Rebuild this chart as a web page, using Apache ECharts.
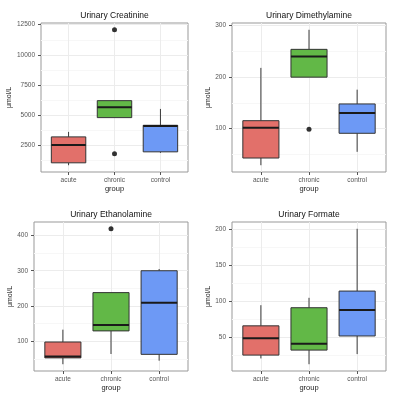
<!DOCTYPE html>
<html>
<head>
<meta charset="utf-8">
<script src="https://cdn.jsdelivr.net/npm/echarts@6/dist/echarts.min.js"></script>
<style>
  html, body { margin: 0; padding: 0; background: #fff; }
  #chart { width: 398px; height: 398px; }
</style>
</head>
<body>
<div id="chart"></div>
<script>
// groups on the x axis
const categories = ['acute', 'chronic', 'control']

// box stats per group: [min, Q1, median, Q3, max]
const creatinineBoxes = [
  [844, 1043, 2530, 3195, 3610],
  [4793, 4793, 5646, 6200, 6200],
  [1870, 1954, 4106, 4156, 5513]
]
const creatinineOutliers = [['chronic', 12078], ['chronic', 1788]]

const dimethylBoxes = [
  [29, 43, 102, 115.5, 218],
  [200, 200, 240, 254, 292],
  [55, 91, 130.5, 148, 175.7]
]
const dimethylOutliers = [['chronic', 98.7]]

const ethanolBoxes = [
  [35, 53, 57, 98, 133],
  [64, 129.5, 146, 238, 238],
  [45, 63, 209, 300, 305]
]
const ethanolOutliers = [['chronic', 419]]

const formateBoxes = [
  [21, 25.6, 49, 66, 94.5],
  [13, 32.5, 41.3, 91, 104.7],
  [27, 52, 88, 114, 200]
]
const formateOutliers = []

// tick labels (major) and minor grid positions
const creatinineTicks = [2500, 5000, 7500, 10000, 12500]
const creatinineMinor = [1250, 3750, 6250, 8750, 11250]
const dimethylTicks = [100, 200, 300]
const dimethylMinor = [50, 150, 250]
const ethanolTicks = [100, 200, 300, 400]
const ethanolMinor = [50, 150, 250, 350]
const formateTicks = [50, 100, 150, 200]
const formateMinor = [25, 75, 125, 175]

const groupColors = ['#E2706A', '#62B847', '#6D99F5']
const font = 'Liberation Sans'

const panels = [
  { title: 'Urinary Creatinine', boxes: creatinineBoxes, outliers: creatinineOutliers, ticks: creatinineTicks, minor: creatinineMinor,
    grid: { left: 41, top: 23, width: 147, height: 149 }, nameGap: 27 },
  { title: 'Urinary Dimethylamine', boxes: dimethylBoxes, outliers: dimethylOutliers, ticks: dimethylTicks, minor: dimethylMinor,
    grid: { left: 232, top: 23, width: 154, height: 149 }, nameGap: 19 },
  { title: 'Urinary Ethanolamine', boxes: ethanolBoxes, outliers: ethanolOutliers, ticks: ethanolTicks, minor: ethanolMinor,
    grid: { left: 34, top: 222, width: 154, height: 149 }, nameGap: 18 },
  { title: 'Urinary Formate', boxes: formateBoxes, outliers: formateOutliers, ticks: formateTicks, minor: formateMinor,
    grid: { left: 232, top: 222, width: 154, height: 149 }, nameGap: 19 }
]

// ggplot style box: whiskers without caps, thick median
function renderBox(params, api) {
  const x = api.value(0)
  const lo = api.coord([x, api.value(1)])
  const q1 = api.coord([x, api.value(2)])
  const md = api.coord([x, api.value(3)])
  const q3 = api.coord([x, api.value(4)])
  const hi = api.coord([x, api.value(5)])
  const half = api.size([0.75, 0])[0] / 2
  const line = { stroke: '#3a3a3a', lineWidth: 1 }
  return {
    type: 'group',
    children: [
      { type: 'line', shape: { x1: lo[0], y1: lo[1], x2: q1[0], y2: q1[1] }, style: line },
      { type: 'line', shape: { x1: q3[0], y1: q3[1], x2: hi[0], y2: hi[1] }, style: line },
      { type: 'rect', shape: { x: q3[0] - half, y: q3[1], width: half * 2, height: q1[1] - q3[1] },
        style: { fill: api.visual('color'), stroke: '#333', lineWidth: 1 } },
      { type: 'line', shape: { x1: md[0] - half, y1: md[1], x2: md[0] + half, y2: md[1] },
        style: { stroke: '#1a1a1a', lineWidth: 2 } }
    ]
  }
}

const option = {
  backgroundColor: '#fff',
  animation: false,
  title: [],
  grid: [],
  xAxis: [],
  yAxis: [],
  series: []
}

panels.forEach((p, i) => {
  // y range = data range + 5% each side
  let lo = Infinity
  let hi = -Infinity
  p.boxes.forEach(b => { lo = Math.min(lo, b[0]); hi = Math.max(hi, b[4]) })
  p.outliers.forEach(o => { lo = Math.min(lo, o[1]); hi = Math.max(hi, o[1]) })
  const pad = (hi - lo) * 0.05

  option.grid.push(Object.assign({ show: true, borderColor: '#999', borderWidth: 1, backgroundColor: '#fff' }, p.grid))
  option.title.push({
    text: p.title,
    left: p.grid.left + p.grid.width / 2,
    top: p.grid.top - 12,
    textAlign: 'center',
    padding: 0,
    textStyle: { fontFamily: font, fontSize: 8.5, fontWeight: 'normal', color: '#111' }
  })

  option.xAxis.push({
    type: 'value',
    gridIndex: i,
    min: 0.4,
    max: 3.6,
    name: 'group',
    nameLocation: 'middle',
    nameGap: 13,
    nameTextStyle: { fontFamily: font, fontSize: 7.5, color: '#222', verticalAlign: 'top' },
    axisLine: { show: false },
    axisTick: { show: true, length: 3, customValues: [1, 2, 3], lineStyle: { color: '#555', width: 1 } },
    axisLabel: { customValues: [1, 2, 3], formatter: v => categories[Math.round(v) - 1], margin: 5,
      fontFamily: font, fontSize: 6.5, color: '#555' },
    splitLine: { show: true, lineStyle: { color: '#ececec', width: 1 } }
  })

  const yBase = { type: 'value', gridIndex: i, min: lo - pad, max: hi + pad }
  option.yAxis.push(Object.assign({}, yBase, {
    name: 'μmol/L',
    nameLocation: 'middle',
    nameGap: p.nameGap,
    nameTextStyle: { fontFamily: font, fontSize: 7, color: '#222' },
    axisLine: { show: false },
    axisTick: { show: true, length: 3, customValues: p.ticks, lineStyle: { color: '#555', width: 1 } },
    axisLabel: { customValues: p.ticks, formatter: v => String(v), margin: 6,
      fontFamily: font, fontSize: 6.5, color: '#555' },
    splitLine: { show: true, lineStyle: { color: '#ececec', width: 1 } }
  }))
  // minor grid lines
  option.yAxis.push(Object.assign({}, yBase, {
    position: 'left',
    axisLine: { show: false },
    axisTick: { show: false, customValues: p.minor },
    axisLabel: { show: false, customValues: p.minor },
    splitLine: { show: true, lineStyle: { color: '#f7f7f7', width: 1 } }
  }))

  option.series.push({
    type: 'custom',
    xAxisIndex: i,
    yAxisIndex: i * 2,
    renderItem: renderBox,
    encode: { x: 0, y: [1, 2, 3, 4, 5] },
    data: p.boxes.map((b, k) => ({ value: [k + 1].concat(b), itemStyle: { color: groupColors[k] } })),
    z: 3
  })
  option.series.push({
    type: 'scatter',
    xAxisIndex: i,
    yAxisIndex: i * 2,
    symbolSize: 5,
    itemStyle: { color: '#000' },
    data: p.outliers.map(o => [categories.indexOf(o[0]) + 1, o[1]]),
    z: 4
  })
})

const chart = echarts.init(document.getElementById('chart'), null, { renderer: 'canvas' })
chart.setOption(option)
</script>
</body>
</html>
